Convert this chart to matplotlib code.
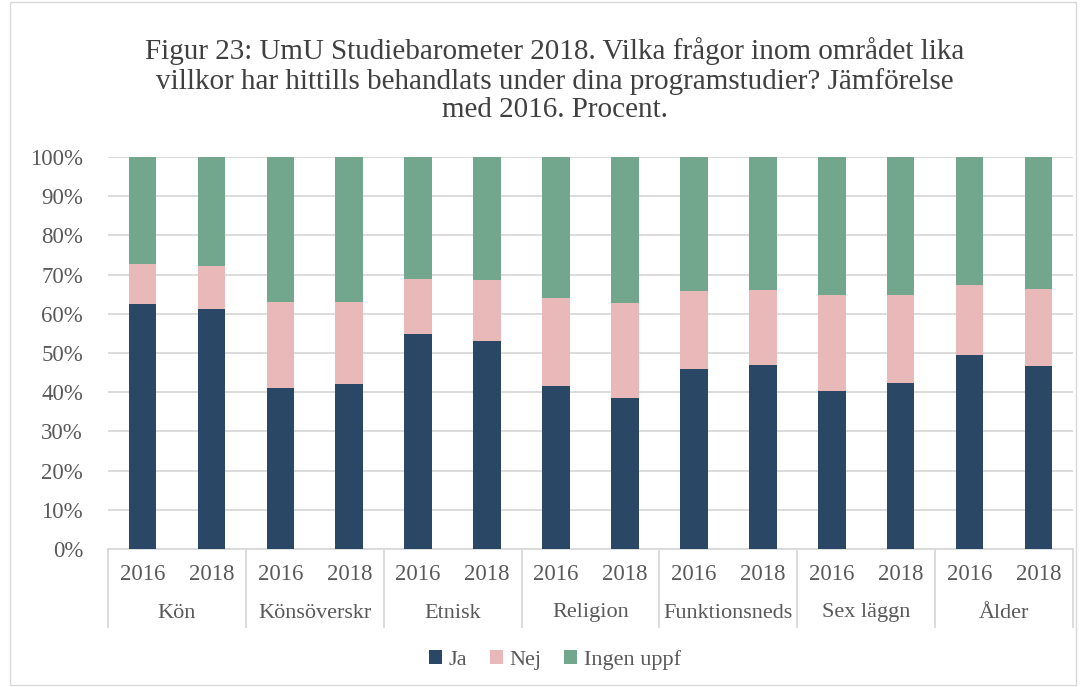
import matplotlib
matplotlib.use("Agg")
import matplotlib.pyplot as plt
import matplotlib.transforms as mtransforms
from matplotlib.patches import Rectangle
import numpy as np

groups = ["Kön", "Könsöverskr", "Etnisk", "Religion", "Funktionsneds", "Sex läggn", "Ålder"]
years = ["2016", "2018"]
ja = [62.6, 61.2, 41.1, 42.1, 54.8, 53.1, 41.5, 38.6, 45.8, 47.0, 40.3, 42.3, 49.6, 46.8]
nej_top = [72.8, 72.3, 63.1, 62.9, 68.8, 68.5, 64.0, 62.8, 65.9, 66.1, 64.7, 64.9, 67.3, 66.3]
nej = [t - j for t, j in zip(nej_top, ja)]
ingen = [100 - t for t in nej_top]
series_names = ["Ja", "Nej", "Ingen uppf"]
colors = ["#2a4765", "#e8b9b8", "#72a78e"]
title = ("Figur 23: UmU Studiebarometer 2018. Vilka frågor inom området lika\n"
         "villkor har hittills behandlats under dina programstudier? Jämförelse\n"
         "med 2016. Procent.")

plt.rcParams['font.family'] = ['Liberation Serif', 'DejaVu Serif']
txt = "#595959"

W, H = 1086, 687
fig = plt.figure(figsize=(W / 100, H / 100), dpi=100)
fig.patches.append(Rectangle((10 / W, 2 / H), 1066 / W, 683 / H, transform=fig.transFigure,
                             fill=False, edgecolor="#d9d9d9", lw=1))
ax = fig.add_axes([108 / W, (H - 549) / H, 965 / W, 392 / H])

n = len(ja)
x = np.arange(n)
bw = 0.4
bottoms = np.zeros(n)
for vals, c, name in zip([ja, nej, ingen], colors, series_names):
    ax.bar(x, vals, bw, bottom=bottoms, color=c, label=name, zorder=3)
    bottoms += np.array(vals)

ax.set_xlim(-0.5, n - 0.5)
ax.set_ylim(0, 100)
ax.set_yticks(np.arange(0, 101, 10))
ax.set_yticklabels([f"{v}%" for v in range(0, 101, 10)], fontsize=16.5, color=txt)
ax.yaxis.grid(True, color="#d9d9d9", lw=1.3, zorder=0)
ax.tick_params(axis="y", length=0, pad=18)
ax.tick_params(axis="x", length=0)
ax.set_xticks([])
for s in ["top", "right", "left"]:
    ax.spines[s].set_visible(False)
ax.spines["bottom"].set_color("#d9d9d9")
ax.spines["bottom"].set_linewidth(1.3)

trans = mtransforms.blended_transform_factory(ax.transData, ax.transAxes)
for i in range(n):
    ax.text(x[i], -26 / 392, years[i % 2], transform=trans, ha="center", va="center",
            fontsize=16.5, color=txt)
for g, name in enumerate(groups):
    ax.text(2 * g + 0.5, -64 / 392, name, transform=trans, ha="center", va="center",
            fontsize=16, color=txt)
for g in range(len(groups) + 1):
    ax.plot([2 * g - 0.5, 2 * g - 0.5], [0, -78 / 392], transform=trans, color="#d9d9d9",
            lw=1.3, clip_on=False)

fig.text(555 / W, 1 - 80 / H, title, ha="center", va="center", fontsize=21,
         color="#404040", linespacing=1.1)

handles, labels = ax.get_legend_handles_labels()
fig.legend(handles, labels, loc="center", bbox_to_anchor=(555 / W, 1 - 660 / H), ncol=3,
           frameon=False, fontsize=16, handlelength=0.6, handleheight=0.6,
           handletextpad=0.3, columnspacing=1.0, labelcolor=txt)

fig.savefig("out.png", dpi=100)
